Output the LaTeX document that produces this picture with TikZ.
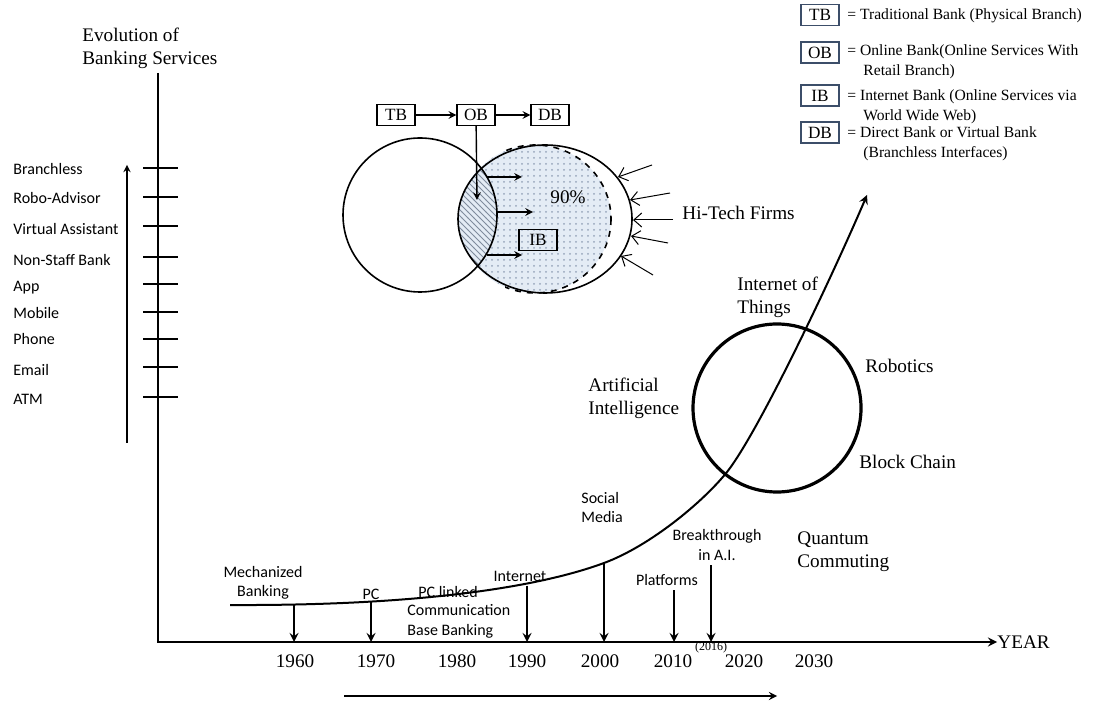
\documentclass[tikz,border=0pt]{standalone}
\usepackage{fontspec}
\setmainfont{Liberation Serif}
\newfontfamily\calfont{Carlito}
\usetikzlibrary{patterns,arrows.meta}

\definecolor{venn}{RGB}{228,236,245}
\definecolor{dotc}{RGB}{150,165,185}
\definecolor{legline}{RGB}{60,78,105}

\tikzset{
  serif/.style={font=\fontsize{9.6}{11.5}\selectfont, inner sep=0pt, align=left},
  sans/.style={font=\calfont\fontsize{8}{9.7}\selectfont, inner sep=0pt},
  legtext/.style={font=\fontsize{7.8}{10}\selectfont, inner sep=0pt, align=left, anchor=west},
  bankbox/.style={draw, line width=0.7pt, minimum width=19pt, minimum height=10.5pt, inner sep=0pt, font=\fontsize{8.6}{10}\selectfont},
  legbox/.style={bankbox, draw=legline},
  axis/.style={line width=1pt},
  drop/.style={->, line width=1pt},
  push/.style={-{Straight Barb[length=4pt, width=7pt]}, line width=0.5pt}
}

\begin{document}
\begin{tikzpicture}[x=0.5pt, y=-0.5pt, >=stealth]
\useasboundingbox (0,0) rectangle (1095,704);

% axes
\coordinate (o) at (158,642);
\coordinate (ytop) at (158,73);
\node[serif, anchor=west] (year) at (997,642) {YEAR};
\draw[axis, ->] (ytop) -- (o) -- (year.west);
\node[serif, anchor=west] (evo) at (82,48.5) {Evolution of\\Banking Services};

% services on the left
\foreach \lab/\ty/\tk [count=\i] in {Branchless/169/168, Robo-Advisor/198/197, Virtual Assistant/229/226,
    Non-Staff Bank/260/257, App/288/284, Mobile/313/312, Phone/339/339, Email/370/367, ATM/399/397}
{
  \node[sans, anchor=west] (s\i) at (13,\ty) {\lab};
  \draw[axis] (143,\tk) -- (178,\tk);
}
\coordinate (evb) at (127,443);
\coordinate (evt) at (127,165);
\draw[->, line width=0.6pt] (evb) -- (evt);

% years
\foreach \yr/\x in {1960/295, 1970/376, 1980/457, 1990/527, 2000/600, 2010/673, 2020/744, 2030/814}
  \node[serif] (y\yr) at (\x,661) {\yr};
\node[font=\fontsize{6}{7}\selectfont, inner sep=0pt] (y2016) at (711,648) {(2016)};
\coordinate (ba) at (344,696);
\coordinate (bb) at (777,696);
\draw[->, line width=0.8pt] (ba) -- (bb);

% growth curve
\coordinate (cs) at (230,605);
\coordinate (c60) at (294,604.5);
\coordinate (c70) at (371,602);
\coordinate (c90) at (527,585.5);
\coordinate (c00) at (604,563);
\coordinate (c10) at (727,472);
\coordinate (ce) at (867,195);
\draw[->, line width=1pt] (cs) .. controls (440,606) and (550,583) .. (c00)
  .. controls (650,546) and (703,502) .. (c10)
  .. controls (760,430) and (835,270) .. (ce);
\foreach \n in {c60, c70, c90, c00}
  \draw[drop] (\n) -- (\n |- o);
\coordinate (pl) at (674,590);
\coordinate (br) at (711,565);
\draw[drop] (pl) -- (pl |- o);
\draw[drop] (br) -- (br |- o);

\node[sans, align=center] (mech) at (263,583) {Mechanized\\Banking};
\node[sans] (pc) at (371,594) {PC};
\node[sans, anchor=west] (pcl) at (418,592) {PC linked};
\node[sans, anchor=west, align=left] (comm) at (407,621.5) {Communication\\Base Banking};
\node[sans] (inet) at (520,576) {Internet};
\node[sans, anchor=west, align=left] (soc) at (581,507.5) {Social\\Media};
\node[sans] (plat) at (667,580) {Platforms};
\node[sans, align=center] (brk) at (717,545) {Breakthrough\\in A.I.};

% technologies
\draw[line width=1.6pt] (777,408) circle[radius=84];
\node[serif, anchor=west] (iot) at (737,297) {Internet of\\Things};
\node[serif, anchor=west] (rob) at (865,366) {Robotics};
\node[serif, anchor=west] (ai) at (588,398) {Artificial\\Intelligence};
\node[serif, anchor=west] (blc) at (859,462) {Block Chain};
\node[serif, anchor=west] (qc) at (797,552) {Quantum\\Commuting};

% venn of banks
\fill[venn] (535,219) ellipse[x radius=76, y radius=74];
\fill[pattern=dots, pattern color=dotc] (535,219) ellipse[x radius=76, y radius=74];
\begin{scope}
  \clip (420,215) circle[radius=77];
  \fill[venn] (545,219) ellipse[x radius=87, y radius=74];
  \fill[pattern=north west lines, pattern color=dotc!85!black] (545,219) ellipse[x radius=87, y radius=74];
\end{scope}
\draw[line width=0.8pt] (420,215) circle[radius=77];
\draw[line width=0.8pt] (545,219) ellipse[x radius=87, y radius=74];
\begin{scope}
  \clip (505,130) rectangle (640,310);
  \draw[dashed, line width=0.8pt] (535,219) ellipse[x radius=76, y radius=74];
\end{scope}

\node[bankbox] (tb) at (396,115) {TB};
\node[bankbox] (ob) at (476,115) {OB};
\node[bankbox] (db) at (550,115) {DB};
\draw[->, line width=0.7pt] (tb) -- (ob);
\draw[->, line width=0.7pt] (ob) -- (db);
\coordinate (obend) at (477,200);
\draw[->, line width=0.7pt] (ob) -- (obend);
\foreach \s/\e/\yy [count=\i] in {487/522/177, 497/533/212, 487/522/255}
{
  \coordinate (r\i a) at (\s,\yy);
  \coordinate (r\i b) at (\e,\yy);
  \draw[->, line width=0.7pt] (r\i a) -- (r\i b);
}
\node[bankbox] (ib) at (538,240) {IB};
\node[serif] (pct) at (568,197) {90\%};

% hi-tech firms
\node[serif, anchor=west] (ht) at (682,213) {Hi-Tech Firms};
\foreach \fx/\fy/\tx/\ty [count=\i] in {652/165/618/177, 670/193/630/200, 673/220/633/220, 668/243/631/236, 653/275/621/256}
{
  \coordinate (h\i a) at (\fx,\fy);
  \coordinate (h\i b) at (\tx,\ty);
  \draw[push] (h\i a) -- (h\i b);
}

% legend
\node[legbox] (ltb) at (820,15) {TB};
\node[legbox] (lob) at (820,52.5) {OB};
\node[legbox] (lib) at (820,95.5) {IB};
\node[legbox] (ldb) at (820,132.5) {DB};
\node[legtext] (ttb) at (847,16) {= Traditional Bank (Physical Branch)};
\node[legtext] (tob) at (847,62) {= Online Bank(Online Services With\\\hspace*{8pt}Retail Branch)};
\node[legtext] (tib) at (847,107) {= Internet Bank (Online Services via\\\hspace*{8pt}World Wide Web)};
\node[legtext] (tdb) at (847,143.5) {= Direct Bank or Virtual Bank\\\hspace*{8pt}(Branchless Interfaces)};

\end{tikzpicture}
\end{document}
